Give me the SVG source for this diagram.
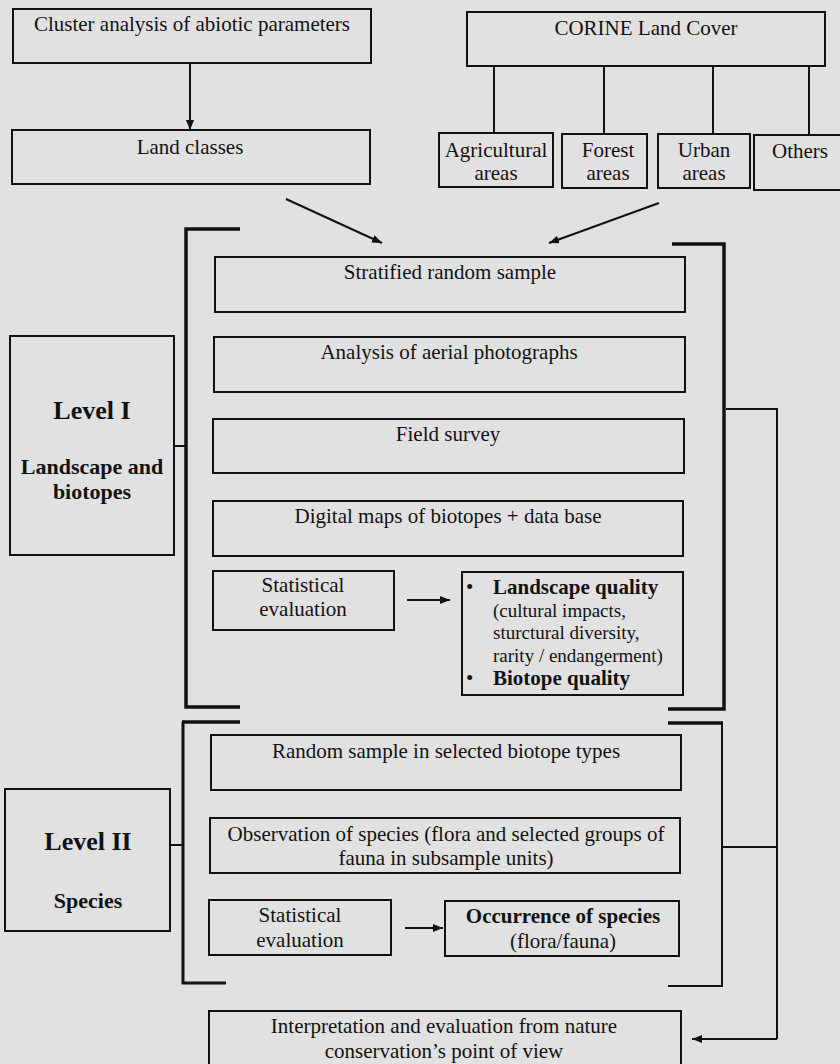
<svg xmlns="http://www.w3.org/2000/svg" width="840" height="1064" viewBox="0 0 840 1064">
  <defs>
    <marker id="arrow" viewBox="0 0 10 8" refX="10" refY="4" markerWidth="10" markerHeight="8" markerUnits="userSpaceOnUse" orient="auto">
      <path d="M0,0 L10,4 L0,8 Z" fill="#111"/>
    </marker>
    <style>
      .box { fill: none; stroke: #111; stroke-width: 2; }
      .t { font-family: "Liberation Serif", "Times New Roman", serif; font-size: 21px; fill: #111; text-anchor: middle; }
      .s { font-size: 19px; text-anchor: start; }
      .b { font-weight: bold; }
      .st { text-anchor: start; }
      .line { fill: none; stroke: #111; stroke-width: 2; }
      .thick { fill: none; stroke: #111; stroke-width: 3.5; }
      .arr { fill: none; stroke: #111; stroke-width: 2; marker-end: url(#arrow); }
    </style>
  </defs>
  <rect x="0" y="0" width="840" height="1064" fill="#e1e1e1"/>

  <!-- top: classification inputs -->
  <g id="cluster">
    <rect class="box" x="13" y="9" width="358" height="54"/>
    <text class="t" x="192" y="31">Cluster analysis of abiotic parameters</text>
  </g>
  <g id="land-classes">
    <rect class="box" x="12" y="130" width="358" height="54"/>
    <text class="t" x="190" y="154">Land classes</text>
  </g>
  <g id="corine">
    <rect class="box" x="467" y="12" width="358" height="54"/>
    <text class="t" x="646" y="35">CORINE Land Cover</text>
  </g>
  <g id="agricultural">
    <rect class="box" x="439" y="133" width="114" height="54"/>
    <text class="t" x="496" y="157">Agricultural</text>
    <text class="t" x="496" y="180">areas</text>
  </g>
  <g id="forest">
    <rect class="box" x="562" y="134" width="85" height="54"/>
    <text class="t" x="608" y="157">Forest</text>
    <text class="t" x="608" y="180">areas</text>
  </g>
  <g id="urban">
    <rect class="box" x="658" y="134" width="92" height="54"/>
    <text class="t" x="704" y="157">Urban</text>
    <text class="t" x="704" y="180">areas</text>
  </g>
  <g id="others">
    <rect class="box" x="754" y="135" width="90" height="55"/>
    <text class="t" x="800" y="158">Others</text>
  </g>

  <!-- Level I -->
  <g id="level1">
    <rect class="box" x="10" y="336" width="164" height="219"/>
    <text class="t b" x="92" y="419" style="font-size:26px">Level I</text>
    <text class="t b" x="92" y="474" style="font-size:22px">Landscape and</text>
    <text class="t b" x="92" y="499" style="font-size:22px">biotopes</text>
  </g>
  <g id="stratified">
    <rect class="box" x="215" y="257" width="470" height="55"/>
    <text class="t" x="450" y="279">Stratified random sample</text>
  </g>
  <g id="aerial">
    <rect class="box" x="214" y="337" width="471" height="55"/>
    <text class="t" x="449" y="359">Analysis of aerial photographs</text>
  </g>
  <g id="field-survey">
    <rect class="box" x="213" y="419" width="471" height="54"/>
    <text class="t" x="448" y="441">Field survey</text>
  </g>
  <g id="digital-maps">
    <rect class="box" x="213" y="501" width="470" height="55"/>
    <text class="t" x="448" y="523">Digital maps of biotopes + data base</text>
  </g>
  <g id="stat-eval-1">
    <rect class="box" x="213" y="571" width="181" height="59"/>
    <text class="t" x="303" y="592">Statistical</text>
    <text class="t" x="303" y="616">evaluation</text>
  </g>
  <g id="quality">
    <rect class="box" x="462" y="572" width="221" height="123"/>
    <text class="t st" x="466" y="594">•</text>
    <text class="t b st" x="493" y="594">Landscape quality</text>
    <text class="t s" x="493" y="617">(cultural impacts,</text>
    <text class="t s" x="493" y="639">sturctural diversity,</text>
    <text class="t s" x="493" y="662">rarity / endangerment)</text>
    <text class="t st" x="466" y="685">•</text>
    <text class="t b st" x="493" y="685">Biotope quality</text>
  </g>

  <!-- Level II -->
  <g id="level2">
    <rect class="box" x="5" y="789" width="165" height="142"/>
    <text class="t b" x="88" y="850" style="font-size:26px">Level II</text>
    <text class="t b" x="88" y="908" style="font-size:22px">Species</text>
  </g>
  <g id="random-sample">
    <rect class="box" x="211" y="735" width="470" height="55"/>
    <text class="t" x="446" y="758">Random sample in selected biotope types</text>
  </g>
  <g id="observation">
    <rect class="box" x="210" y="818" width="470" height="55"/>
    <text class="t" x="446" y="841">Observation of species (flora and selected groups of</text>
    <text class="t" x="446" y="865">fauna in subsample units)</text>
  </g>
  <g id="stat-eval-2">
    <rect class="box" x="209" y="900" width="182" height="55"/>
    <text class="t" x="300" y="922">Statistical</text>
    <text class="t" x="300" y="947">evaluation</text>
  </g>
  <g id="occurrence">
    <rect class="box" x="445" y="901" width="234" height="55"/>
    <text class="t b" x="563" y="923">Occurrence of species</text>
    <text class="t" x="563" y="948">(flora/fauna)</text>
  </g>

  <g id="interpretation">
    <rect class="box" x="209" y="1011" width="472" height="60"/>
    <text class="t" x="444" y="1033">Interpretation and evaluation from  nature</text>
    <text class="t" x="444" y="1058">conservation’s point of view</text>
  </g>

  <g id="connectors">
    <!-- classification inputs -->
    <line class="arr" x1="190" y1="63" x2="190" y2="130"/>
    <line class="line" x1="494" y1="66" x2="494" y2="133"/>
    <line class="line" x1="604" y1="66" x2="604" y2="134"/>
    <line class="line" x1="713" y1="66" x2="713" y2="134"/>
    <line class="line" x1="809" y1="66" x2="809" y2="135"/>
    <line class="arr" x1="286" y1="199" x2="382" y2="243"/>
    <line class="arr" x1="659" y1="203" x2="549" y2="243"/>

    <!-- Level I brackets -->
    <polyline class="thick" points="240,229 186,229 186,707 240,707"/>
    <polyline class="thick" points="672,244 724,244 724,709 668,709"/>
    <line class="line" x1="174" y1="446" x2="186" y2="446"/>
    <line class="arr" x1="407" y1="600" x2="450" y2="600"/>

    <!-- Level II brackets -->
    <polyline class="line" points="226,983 183,983 183,722" style="stroke-width:3"/>
    <line class="thick" x1="182" y1="722" x2="240" y2="722"/>
    <polyline class="line" points="668,986 722,986 722,723"/>
    <line class="thick" x1="668" y1="723" x2="723" y2="723"/>
    <line class="line" x1="170" y1="845" x2="183" y2="845"/>
    <line class="arr" x1="405" y1="928" x2="443" y2="928"/>

    <!-- results to interpretation -->
    <polyline class="line" points="726,409 777,409 777,1039"/>
    <line class="line" x1="722" y1="847" x2="777" y2="847"/>
    <line class="arr" x1="777" y1="1039" x2="692" y2="1039"/>
  </g>
</svg>
